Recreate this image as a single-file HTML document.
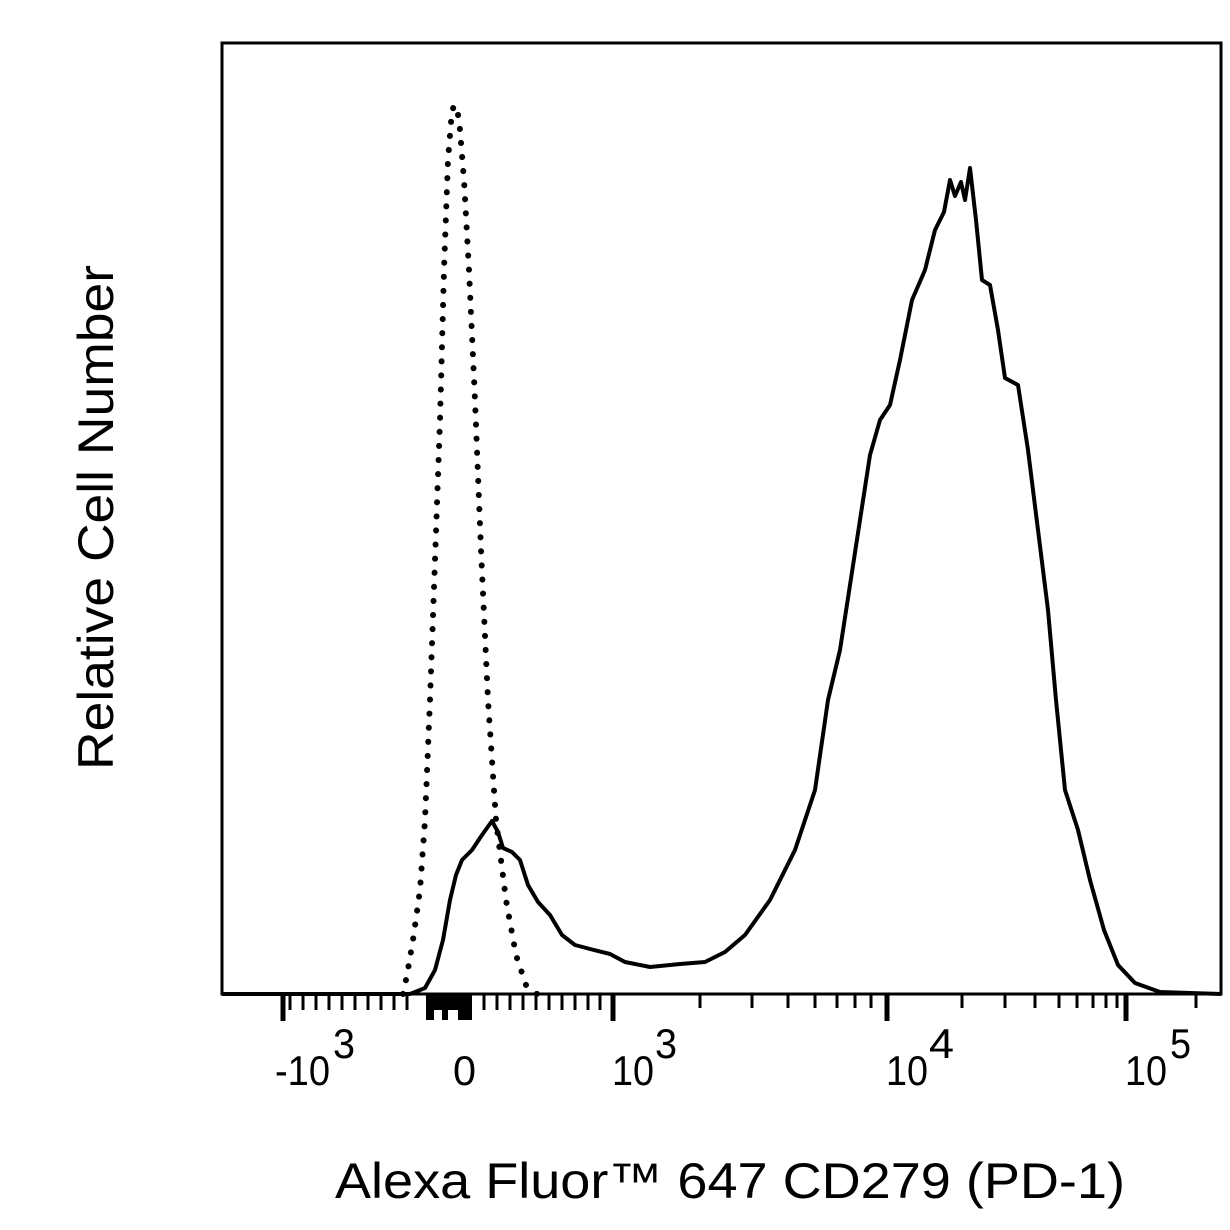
<!DOCTYPE html>
<html><head><style>body{margin:0;background:#fff}svg{display:block}</style></head><body>
<svg width="1230" height="1230" viewBox="0 0 1230 1230" xmlns="http://www.w3.org/2000/svg" font-family="Liberation Sans, sans-serif">
<rect x="222" y="43" width="999" height="951" fill="none" stroke="#000" stroke-width="3"/>
<g stroke="#000" stroke-width="3">
<line x1="283" y1="994" x2="283" y2="1021" stroke-width="5"/>
<line x1="613" y1="994" x2="613" y2="1021" stroke-width="5"/>
<line x1="887" y1="994" x2="887" y2="1021" stroke-width="5"/>
<line x1="1126" y1="994" x2="1126" y2="1021" stroke-width="5"/>
<path d="M290 994v16M303 994v16M316 994v16M329 994v16M342 994v16M355 994v16M368 994v16M381 994v16M394 994v16M407 994v16M484 994v16M497 994v16M510 994v16M523 994v16M536 994v16M549 994v16M562 994v16M575 994v16M588 994v16M600 994v16M700 994v14M752 994v14M788 994v14M815 994v14M837 994v14M855 994v14M871 994v14M962 994v14M1005 994v14M1035 994v14M1059 994v14M1077 994v14M1093 994v14M1106 994v14M1117 994v14M1196 994v14"/>
</g>
<rect x="426" y="994" width="46" height="16" fill="#000"/>
<rect x="426" y="1008" width="8" height="12" fill="#000"/><rect x="442" y="1008" width="6" height="12" fill="#000"/><rect x="458" y="1008" width="14" height="12" fill="#000"/>
<polyline fill="none" stroke="#000" stroke-width="6" stroke-linecap="round" stroke-dasharray="0.1 14" points="403,994 407,975 413,940 420,890 425,820 430,700 435,560 440,420 444,270 448,160 452,110 455,105 459,118 464,180 469,270 475,400 481,550 488,700 496,820 506,900 516,955 526,985 537,994"/>
<polyline fill="none" stroke="#000" stroke-width="4" stroke-linejoin="round" points="222,994 410,994 425,988 435,970 443,940 450,900 456,875 462,860 472,850 482,835 492,821 498,832 503,848 512,852 520,860 528,885 538,902 550,915 562,935 575,945 590,949 610,954 625,962 650,967 680,964 705,962 725,952 745,935 770,900 795,850 815,790 828,700 840,650 850,585 860,520 870,455 880,420 890,405 900,360 912,300 925,270 935,230 944,212 950,180 955,196 961,182 965,200 970,168 976,220 982,280 990,285 998,330 1005,378 1018,385 1028,450 1038,530 1048,610 1056,700 1065,790 1078,830 1090,880 1104,930 1118,965 1135,983 1160,992 1221,994"/>
<g font-size="42" fill="#000">
<text x="275" y="1085" textLength="55" lengthAdjust="spacingAndGlyphs">-10</text><text x="333" y="1058" textLength="22" lengthAdjust="spacingAndGlyphs">3</text>
<text x="453" y="1085" textLength="23" lengthAdjust="spacingAndGlyphs">0</text>
<text x="612" y="1085" textLength="42" lengthAdjust="spacingAndGlyphs">10</text><text x="655" y="1058" textLength="22" lengthAdjust="spacingAndGlyphs">3</text>
<text x="886" y="1085" textLength="42" lengthAdjust="spacingAndGlyphs">10</text><text x="929" y="1058" textLength="25" lengthAdjust="spacingAndGlyphs">4</text>
<text x="1125" y="1085" textLength="42" lengthAdjust="spacingAndGlyphs">10</text><text x="1170" y="1058" textLength="21" lengthAdjust="spacingAndGlyphs">5</text>
</g>
<text x="335" y="1198" font-size="50" textLength="790" lengthAdjust="spacingAndGlyphs">Alexa Fluor™ 647 CD279 (PD-1)</text>
<text transform="translate(113,770) rotate(-90)" font-size="50" textLength="505" lengthAdjust="spacingAndGlyphs">Relative Cell Number</text>
</svg>
</body></html>
